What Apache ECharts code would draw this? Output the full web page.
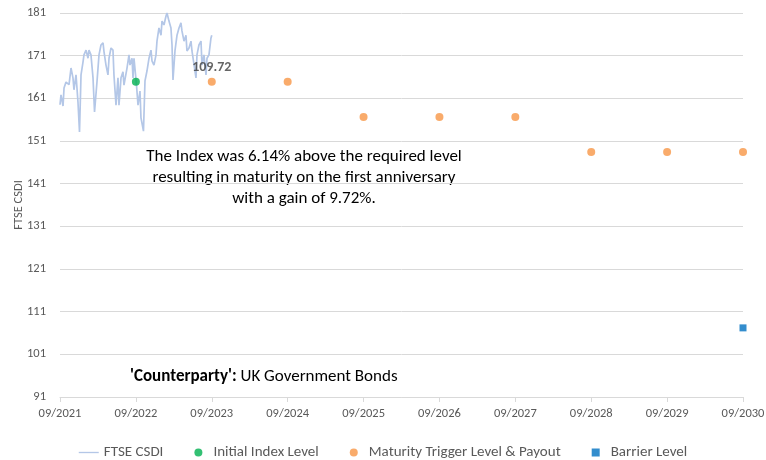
<!DOCTYPE html>
<html>
<head>
<meta charset="utf-8">
<script src="https://cdn.jsdelivr.net/npm/echarts@6/dist/echarts.min.js"></script>
<style>
  html, body { margin: 0; padding: 0; background: #fff; }
  #chart { width: 766px; height: 460px; }
</style>
</head>
<body>
<div id="chart"></div>
<script>
// Years elapsed since 09/2021 on the x axis; tick labels below.
const xTickLabels = ['09/2021', '09/2022', '09/2023', '09/2024', '09/2025',
                     '09/2026', '09/2027', '09/2028', '09/2029', '09/2030'];

// FTSE CSDI index history: observation time (years since 09/2021) and level
const ftseYears = [
  0, 0.013, 0.040, 0.053, 0.079, 0.119, 0.145, 0.171, 0.184, 0.211,
  0.237, 0.257, 0.277, 0.303, 0.316, 0.343, 0.369, 0.382, 0.408, 0.435,
  0.455, 0.487, 0.514, 0.540, 0.567, 0.580, 0.606, 0.632, 0.646, 0.672,
  0.698, 0.711, 0.738, 0.764, 0.777, 0.804, 0.830, 0.843, 0.883, 0.909,
  0.922, 0.949, 0.962, 0.975, 1.008, 1.028, 1.054, 1.067, 1.100, 1.120,
  1.146, 1.173, 1.199, 1.212, 1.238, 1.265, 1.278, 1.304, 1.331, 1.344,
  1.370, 1.397, 1.410, 1.436, 1.462, 1.476, 1.489, 1.515, 1.542, 1.568,
  1.594, 1.607, 1.634, 1.660, 1.673, 1.700, 1.726, 1.739, 1.765, 1.792,
  1.805, 1.831, 1.858, 1.871, 1.897, 1.924, 1.937, 1.963, 1.989, 2.0
];
const ftseValues = [
  159.5, 161.8, 159.2, 163.4, 164.8, 164.2, 168.1, 165.8, 163.0, 166.5,
  160.1, 153.1, 166.5, 169.5, 171.2, 172.3, 170.4, 172.3, 171.2, 165.8,
  157.8, 164.8, 171.2, 173.5, 174.0, 171.9, 168.8, 166.5, 170.4, 172.8,
  172.3, 166.5, 159.4, 165.8, 159.4, 165.8, 167.2, 164.1, 168.1, 171.2,
  168.8, 170.4, 165.8, 170.4, 164.1, 159.4, 162.7, 156.4, 153.3, 165.1,
  167.4, 170.4, 172.3, 169.8, 168.8, 171.2, 174.4, 177.5, 175.8, 179.1,
  178.2, 180.3, 181.0, 179.1, 177.5, 173.5, 165.3, 172.1, 175.8, 177.5,
  178.7, 176.8, 174.4, 175.8, 172.1, 172.8, 174.4, 172.1, 172.1, 165.8,
  171.2, 173.5, 174.4, 168.8, 171.2, 166.5, 170.4, 171.2, 175.1, 175.8
];

// Initial index level (set 09/2022)
const initialYear = [1];
const initialLevel = [164.9];

// Maturity trigger levels on each anniversary
const triggerYears = [2, 3, 4, 5, 6, 7, 8, 9];
const triggerLevels = [164.9, 164.9, 156.6, 156.6, 156.6, 148.4, 148.4, 148.4];
const payoutLabel = '109.72';

// Barrier level at final observation
const barrierYear = [9];
const barrierLevel = [107.2];

const ftseData = ftseYears.map((t, i) => [t, ftseValues[i]]);

const font = 'Carlito, Lato, "Liberation Sans", sans-serif';
const grey = '#595959';

const chart = echarts.init(document.getElementById('chart'), null, { renderer: 'canvas' });
chart.setOption({
  animation: false,
  textStyle: { fontFamily: font },
  grid: { left: 60, right: 23, top: 13, bottom: 63, containLabel: false, outerBoundsMode: 'none' },
  xAxis: {
    type: 'value',
    min: 0, max: 9, interval: 1,
    axisLine: { show: true, lineStyle: { color: '#d9d9d9', width: 1 } },
    axisTick: { show: true, length: 5, lineStyle: { color: '#d9d9d9' } },
    splitLine: { show: false },
    axisLabel: {
      color: grey, fontSize: 12.5, fontFamily: font, margin: 10,
      formatter: v => xTickLabels[Math.round(v)]
    }
  },
  yAxis: {
    type: 'value',
    min: 91, max: 181, interval: 10,
    name: 'FTSE CSDI',
    nameLocation: 'middle',
    nameGap: 35,
    nameMoveOverlap: false,
    nameTextStyle: { color: grey, fontSize: 12.5, fontFamily: font },
    axisLine: { show: false },
    axisTick: { show: false },
    splitLine: { lineStyle: { color: '#d9d9d9', width: 1 } },
    axisLabel: { color: grey, fontSize: 12.5, fontFamily: font, margin: 14 }
  },
  legend: {
    top: 440,
    left: 'center',
    itemGap: 31,
    itemWidth: 20,
    itemHeight: 8,
    symbolKeepAspect: true,
    textStyle: { color: grey, fontSize: 15, fontFamily: font },
    data: [
      { name: 'FTSE CSDI', icon: 'path://M0,0 L30,0 L30,2 L0,2 Z', itemStyle: { color: '#b4c7e7' } },
      { name: 'Initial Index Level', icon: 'circle' },
      { name: 'Maturity Trigger Level & Payout', icon: 'circle' },
      { name: 'Barrier Level', icon: 'path://M0,0 L10,0 L10,10 L0,10 Z' }
    ]
  },
  series: [
    {
      name: 'FTSE CSDI',
      type: 'line',
      data: ftseData,
      showSymbol: false,
      symbol: 'none',
      lineStyle: { color: '#b4c7e7', width: 1.7 },
      itemStyle: { color: '#b4c7e7' },
      z: 2
    },
    {
      name: 'Initial Index Level',
      type: 'scatter',
      data: initialYear.map((t, i) => [t, initialLevel[i]]),
      symbol: 'circle',
      symbolSize: 8,
      itemStyle: { color: '#00b050' },
      z: 4
    },
    {
      name: 'Maturity Trigger Level & Payout',
      type: 'scatter',
      data: triggerYears.map((t, i) => ({
        value: [t, triggerLevels[i]],
        label: i === 0 ? {
          show: true, position: 'top', distance: 3,
          formatter: payoutLabel,
          color: '#3f3f3f', fontWeight: 'bold', fontSize: 14, fontFamily: font
        } : { show: false }
      })),
      symbol: 'circle',
      symbolSize: 8,
      itemStyle: { color: '#f79646' },
      z: 4
    },
    {
      name: 'Barrier Level',
      type: 'scatter',
      data: barrierYear.map((t, i) => [t, barrierLevel[i]]),
      symbol: 'rect',
      symbolSize: 7,
      itemStyle: { color: '#0070c0' },
      z: 4
    }
  ],
  graphic: [
    {
      type: 'text',
      x: 304, y: 146,
      style: {
        text: 'The Index was 6.14% above the required level\nresulting in maturity on the first anniversary\nwith a gain of 9.72%.',
        align: 'center',
        verticalAlign: 'top',
        fill: '#000',
        font: '17px ' + font,
        lineHeight: 21
      }
    },
    {
      type: 'text',
      x: 130, y: 368,
      style: {
        text: "{b|'Counterparty':} UK Government Bonds",
        rich: {
          b: { fontWeight: 'bold', fontSize: 17, fontFamily: font, fill: '#000' }
        },
        fill: '#000',
        font: '17px ' + font
      }
    }
  ]
});
</script>
</body>
</html>
